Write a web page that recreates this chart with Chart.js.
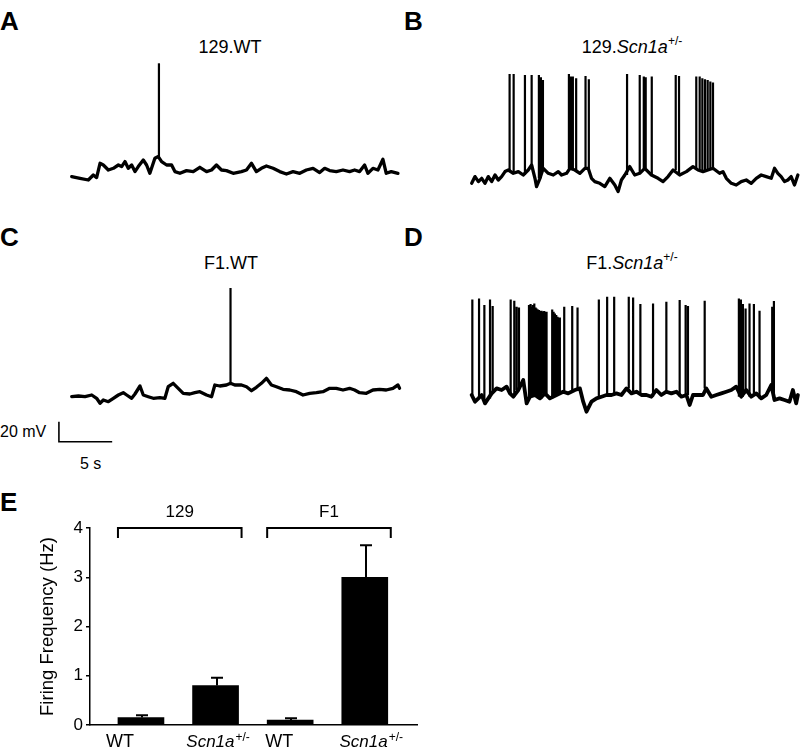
<!DOCTYPE html>
<html><head><meta charset="utf-8">
<script src="https://cdn.jsdelivr.net/npm/chart.js@4/dist/chart.umd.min.js"></script>
<style>
body{margin:0;background:#fff;}
#wrap{position:relative;width:800px;height:747px;overflow:hidden;font-family:"Liberation Sans",Arial,sans-serif;color:#000;background:#fff;}
.abs{position:absolute;white-space:nowrap;}
.letter{font-weight:bold;font-size:26px;line-height:26px;}
.title{font-size:18px;line-height:18px;transform:translateX(-50%);}
.title sup{font-size:12px;line-height:0;position:relative;top:-1px;}
canvas{position:absolute;}
</style></head><body><div id="wrap">
<div class="abs letter" style="left:0px;top:8px">A</div>
<div class="abs letter" style="left:404px;top:8px">B</div>
<div class="abs letter" style="left:0px;top:224px">C</div>
<div class="abs letter" style="left:404px;top:224px">D</div>
<div class="abs letter" style="left:0px;top:489px">E</div>
<div class="abs title" style="left:230px;top:38px">129.WT</div>
<div class="abs title" style="left:632px;top:38px">129.<i>Scn1a</i><sup>+/-</sup></div>
<div class="abs title" style="left:231px;top:254px">F1.WT</div>
<div class="abs title" style="left:632px;top:254px">F1.<i>Scn1a</i><sup>+/-</sup></div>
<div class="abs" style="left:0px;top:424px;font-size:16px;line-height:16px">20 mV</div>
<div class="abs" style="left:80px;top:456px;font-size:16px;line-height:16px">5 s</div>
<canvas id="cA" width="334" height="135" style="left:68px;top:55px"></canvas>
<canvas id="cB" width="332" height="140" style="left:468px;top:55px"></canvas>
<canvas id="cC" width="346" height="172" style="left:56px;top:275px"></canvas>
<canvas id="cD" width="332" height="140" style="left:468px;top:280px"></canvas>
<canvas id="cE" width="425" height="267" style="left:0px;top:480px"></canvas>
</div>
<script>
// ---- Panel A: 129.WT (time s, membrane potential mV) ----
const traceA_t = [0,0.78,1.56,2.03,2.34,2.66,2.97,3.44,3.91,4.38,4.69,5.0,5.31,5.63,5.94,6.25,6.72,7.03,7.34,7.81,8.13,8.44,8.91,9.38,9.69,10.16,10.78,11.41,12.03,12.66,13.13,13.59,14.06,14.53,15.16,15.94,16.41,16.88,17.34,17.81,18.28,18.91,19.53,20.16,20.78,21.41,22.03,22.66,23.28,23.75,24.22,24.84,25.47,26.09,26.56,27.03,27.5,27.81,28.28,28.75,29.22,29.53,30.0,30.63];
const traceA_mV = [-73.3,-75,-76.7,-71.7,-74.3,-60,-61.7,-66.7,-65,-61.7,-63.3,-58.3,-65,-61.7,-68.3,-63.3,-56.7,-61.7,-70,-55,-53.3,-58.3,-61.7,-61.7,-68.3,-70,-67.3,-68.3,-64,-68.3,-66.7,-61.7,-66.7,-67.3,-70,-68.3,-66.7,-60,-68.3,-65,-62.7,-65,-68.3,-70.7,-68.3,-70,-66.7,-65,-69.3,-65,-67.3,-68.3,-66.7,-68.3,-66.7,-68.3,-61.7,-70,-65,-66.7,-56,-70,-68.3,-70];
const spikesA_t = [8.19];
const spikesA_mV = [40];

// ---- Panel B: 129.Scn1a+/- ----
const traceB_t = [0,0.31,0.63,0.94,1.25,1.56,1.88,2.19,2.5,2.81,3.13,3.44,3.91,4.38,4.84,5.31,5.63,5.94,6.09,6.41,6.72,7.19,7.66,8.13,8.44,8.91,9.22,9.69,10.16,10.63,10.94,11.25,11.56,12.03,12.5,12.97,13.44,13.75,14.06,14.38,14.84,15.31,15.78,16.25,16.88,17.5,17.97,18.44,18.91,19.53,20.16,20.78,21.25,21.72,22.19,22.66,23.28,23.59,23.91,24.38,24.84,25.31,25.78,26.25,26.72,27.19,27.66,28.13,28.44,28.75,29.06,29.38,29.69,30.0,30.31,30.63];
const traceB_mV = [-75,-68.3,-73.3,-70,-75,-68.3,-73.3,-66.7,-71.7,-68.3,-63.3,-61.7,-65,-63.3,-66.7,-61.7,-56.7,-70,-78.3,-70,-60,-65,-66.7,-63.3,-66.7,-65,-60,-61.7,-65,-60,-60,-70,-73.3,-75,-78.3,-70,-76.7,-83.3,-71.7,-66.7,-58.3,-66.7,-65,-60,-66.7,-70,-73.3,-68.3,-61.7,-66.7,-63.3,-58.3,-61.7,-63.3,-61.7,-60,-65,-63.3,-70,-75,-76.7,-73.3,-71.7,-75,-70,-66.7,-68.3,-70,-60,-65,-68.3,-73.3,-71.7,-68.3,-76.7,-66.7];
const spikesB_t = [3.56,3.94,5.0,5.63,6.31,6.5,6.69,9.13,9.31,9.5,9.81,10.69,11.0,14.59,15.78,16.16,16.34,16.91,19.16,19.47,21.09,21.41,21.66,21.91,22.16,22.41,22.66];
const spikesB_mV = [34.3,34.3,33.3,33.3,33.3,31,28.3,34.3,31.7,31.7,30,32.3,29,34.3,33.3,31.7,31,31.7,33.3,32.3,31.7,31.7,30,29,28.3,26.7,25.7];

// ---- Panel C: F1.WT ----
const traceC_t = [0,0.63,1.25,1.88,2.34,2.66,2.97,3.44,3.91,4.38,4.84,5.16,5.63,5.94,6.41,6.72,7.19,7.66,8.28,8.75,9.06,9.53,10.0,10.47,11.09,11.56,12.03,12.66,13.13,13.44,13.91,14.53,14.91,15.31,15.94,16.41,16.88,17.34,17.81,18.28,18.75,19.22,19.84,20.47,21.09,21.72,22.34,22.97,23.59,24.22,24.84,25.47,26.09,26.56,27.03,27.66,28.28,28.91,29.53,30.16,30.63,30.78];
const traceC_mV = [-71.7,-71,-71.7,-70,-73.3,-78.3,-75,-76.7,-73.3,-70,-67.7,-70,-73.3,-69,-61,-70,-71.7,-73.3,-72.7,-73.3,-61.7,-58.3,-63.3,-68.3,-69,-67.7,-66.7,-70,-71.7,-60,-61,-60,-58.3,-60,-60,-61.7,-65.7,-62.3,-58.3,-53.3,-60,-61.7,-64.3,-65,-66.7,-70,-68.3,-67.7,-66.7,-63.3,-63.3,-65,-63.3,-65,-67.7,-68.3,-65,-64.3,-65,-63.3,-60,-63.3];
const spikesC_t = [14.91];
const spikesC_mV = [37];

// ---- Panel D: F1.Scn1a+/- ----
const traceD_t = [0,0.31,0.63,0.94,1.25,1.56,1.88,2.34,2.81,3.28,3.59,3.91,4.38,4.84,5.16,5.47,5.94,6.41,6.88,7.34,7.97,8.59,9.06,9.69,10.16,10.47,10.78,11.25,11.72,12.19,12.66,13.13,13.59,14.06,14.53,15.0,15.47,15.94,16.41,16.88,17.34,17.81,18.28,18.75,19.22,19.69,20.16,20.47,20.78,21.25,21.72,22.03,22.5,22.97,23.44,23.91,24.38,24.84,25.31,25.78,26.25,26.72,27.19,27.66,28.13,28.44,28.91,29.38,29.84,30.16,30.47,30.63];
const traceD_mV = [-68.3,-75,-71.7,-68.3,-76.7,-71.7,-66.7,-61.7,-63.3,-60,-66.7,-70,-63.3,-53.3,-76.7,-70,-68.3,-71.7,-66.7,-71.7,-68.3,-65,-66.7,-63.3,-61.7,-75,-85,-75,-71.7,-70,-68.3,-68.3,-66.7,-68.3,-61.7,-66.7,-65,-68.3,-68.3,-70,-63.3,-68.3,-65,-66.7,-65,-70,-68.3,-78.3,-68.3,-68.3,-68.3,-61.7,-70,-68.3,-66.7,-65,-63.3,-60,-70,-63.3,-70,-66.7,-71.7,-68.3,-58.3,-73.3,-71.7,-73.3,-75,-63.3,-76.7,-68.3];
const spikesD_t = [0.06,0.69,1.19,1.72,1.97,3.66,4.0,4.22,4.44,5.38,5.53,5.63,5.75,5.88,6.0,6.09,6.22,6.31,6.44,6.56,6.69,6.81,6.94,7.03,7.56,7.69,7.81,7.94,8.06,8.19,8.28,8.69,9.44,9.94,11.94,12.72,13.38,14.75,15.16,15.84,17.03,18.28,19.53,20.09,20.31,21.88,25.09,25.28,25.47,25.72,26.09,26.5,27.03,28.22,28.38];
const spikesD_mV = [27.3,28.3,21.7,27.3,20.7,27.3,26,20,19.3,21.7,22.7,20,21.7,23.3,19.3,18.3,17.3,16.7,16,16,15.3,15.7,15,15,17.3,15,13.3,11.7,10,9.3,9.3,20,20.7,19.3,27.3,30,30,30,29.3,22.7,23.3,25,26.7,21.7,20.7,26,28.3,27.3,22.7,18.3,23.3,22.7,16,20,25.7];

// ---- Scale bar (20 mV, 5 s) drawn in panel C's axes ----
const scaleBar_t = [-1.2, -1.2, 3.8];
const scaleBar_mV = [-96.7, -116.7, -116.7];

// ---- Panel E: firing frequency ----
const genotypes = ['WT', 'Scn1a', 'WT', 'Scn1a'];
const strains = ['129', 'F1'];
const strainMembers = [[0, 1], [2, 3]];
const firingHz = [0.15, 0.80, 0.10, 3.00];
const semHz = [0.05, 0.16, 0.035, 0.65];
const yTickValues = [0, 1, 2, 3, 4];

function series(ts, vs) {
  const n = Math.min(ts.length, vs.length), out = [];
  for (let i = 0; i < n; i++) out.push({x: ts[i], y: vs[i]});
  return out;
}
function nearestValue(ts, vs, t) {
  let best = 0;
  for (let i = 1; i < ts.length; i++) if (Math.abs(ts[i] - t) < Math.abs(ts[best] - t)) best = i;
  return vs[best];
}
function spikeSegments(st, sv, ts, vs) {
  const out = [];
  for (let i = 0; i < st.length; i++) {
    out.push({x: st[i], y: nearestValue(ts, vs, st[i])});
    out.push({x: st[i], y: sv[i]});
    out.push({x: st[i], y: null});
  }
  return out;
}
const noUI = {legend: {display: false}, tooltip: {enabled: false}, title: {display: false}};

function traceChart(id, ts, vs, st, sv, xr, yr, lw, extra) {
  const datasets = [
    {data: series(ts, vs), borderColor: '#000', borderWidth: lw, pointRadius: 0, tension: 0,
     borderJoinStyle: 'round', borderCapStyle: 'round'},
    {data: spikeSegments(st, sv, ts, vs), borderColor: '#000', borderWidth: 2.2, pointRadius: 0,
     tension: 0, spanGaps: false}
  ];
  if (extra) datasets.push(extra);
  return new Chart(document.getElementById(id), {
    type: 'line',
    data: {datasets},
    options: {
      responsive: false, animation: false, events: [],
      layout: {padding: 0},
      plugins: noUI,
      scales: {
        x: {type: 'linear', display: false, min: xr[0], max: xr[1]},
        y: {type: 'linear', display: false, min: yr[0], max: yr[1]}
      }
    }
  });
}

traceChart('cA', traceA_t, traceA_mV, spikesA_t, spikesA_mV, [-0.347, 31.01], [-86.7, 48.3], 3.3);
traceChart('cB', traceB_t, traceB_mV, spikesB_t, spikesB_mV, [-0.347, 30.83], [-86.7, 53.3], 3.3);
traceChart('cC', traceC_t, traceC_mV, spikesC_t, spikesC_mV, [-1.474, 31.01], [-122, 50], 3.3,
  {data: series(scaleBar_t, scaleBar_mV), borderColor: '#000', borderWidth: 1.6, pointRadius: 0, tension: 0});
traceChart('cD', traceD_t, traceD_mV, spikesD_t, spikesD_mV, [-0.347, 30.83], [-93.3, 46.7], 3.8);

const FONT = '"Liberation Sans", Arial, sans-serif';
const extrasPlugin = {
  id: 'extras',
  afterDatasetsDraw(chart) {
    const {ctx, scales: {x, y}, chartArea} = chart;
    ctx.save();
    ctx.strokeStyle = '#000';
    ctx.fillStyle = '#000';
    ctx.lineWidth = 2;
    // error bars
    firingHz.forEach((v, i) => {
      const px = Math.round(x.getPixelForValue(i)) + 1;
      const y0 = y.getPixelForValue(v), y1 = y.getPixelForValue(v + semHz[i]);
      ctx.beginPath();
      ctx.moveTo(px, y0); ctx.lineTo(px, y1);
      ctx.moveTo(px - 6, y1); ctx.lineTo(px + 6, y1);
      ctx.stroke();
    });
    // strain brackets
    const top = y.getPixelForValue(4);
    ctx.font = '17px ' + FONT;
    ctx.textAlign = 'center';
    ctx.textBaseline = 'middle';
    strains.forEach((s, k) => {
      const m = strainMembers[k];
      const xa = x.getPixelForValue(m[0]) - 23, xb = x.getPixelForValue(m[m.length - 1]) + 26;
      ctx.beginPath();
      ctx.moveTo(xa, top + 10); ctx.lineTo(xa, top); ctx.lineTo(xb, top); ctx.lineTo(xb, top + 10);
      ctx.stroke();
      ctx.fillText(s, (xa + xb) / 2, top - 16);
    });
    // category labels
    const nudge = [-21, 2, -11, 6];
    ctx.textBaseline = 'alphabetic';
    const base = chartArea.bottom + 22;
    genotypes.forEach((g, i) => {
      const cx = x.getPixelForValue(i) + nudge[i];
      if (g === 'WT') {
        ctx.font = '18px ' + FONT;
        ctx.textAlign = 'center';
        ctx.fillText(g, cx, base);
      } else {
        ctx.font = 'italic 17px ' + FONT;
        const w1 = ctx.measureText(g).width;
        ctx.font = '12px ' + FONT;
        const w2 = ctx.measureText('+/-').width;
        const left = cx - (w1 + w2) / 2;
        ctx.textAlign = 'left';
        ctx.font = 'italic 17px ' + FONT;
        ctx.fillText(g, left, base);
        ctx.font = '12px ' + FONT;
        ctx.fillText('+/-', left + w1 + 1, base - 6);
      }
    });
    ctx.restore();
  }
};

new Chart(document.getElementById('cE'), {
  type: 'bar',
  data: {datasets: [{
    data: firingHz.map((v, i) => ({x: i, y: v})),
    backgroundColor: '#000', borderWidth: 0, barThickness: 46
  }]},
  options: {
    responsive: false, animation: false, events: [],
    layout: {padding: {top: 48, right: 8, left: 0, bottom: 0}},
    plugins: noUI,
    scales: {
      x: {type: 'linear', min: -0.683, max: 3.70, offset: false,
          ticks: {display: false}, grid: {display: false},
          border: {display: true, color: '#000', width: 1.5},
          afterFit: (s) => { s.height = 22; }},
      y: {type: 'linear', min: 0, max: 4,
          afterBuildTicks: (s) => { s.ticks = yTickValues.map(v => ({value: v})); },
          ticks: {color: '#000', padding: 3, font: {family: FONT, size: 17}},
          grid: {drawOnChartArea: false, drawTicks: true, tickLength: 4, color: '#000', lineWidth: 1.5},
          border: {display: true, color: '#000', width: 1.5},
          title: {display: true, text: 'Firing Frequency (Hz)', color: '#000',
                  font: {family: FONT, size: 18.5}, padding: {top: 37, bottom: 0}},
          afterFit: (s) => { s.width = 90; }}
    }
  },
  plugins: [extrasPlugin]
});
</script>
</body></html>
